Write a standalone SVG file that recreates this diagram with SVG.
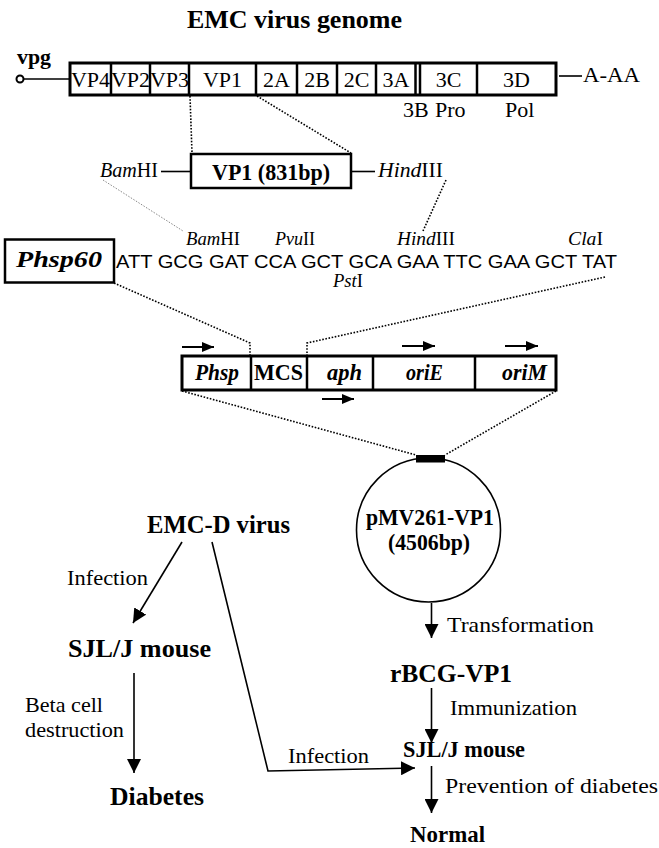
<svg xmlns="http://www.w3.org/2000/svg" width="659" height="848" viewBox="0 0 659 848">
<defs>
<style>
text{font-family:"Liberation Serif","Times New Roman",serif;fill:#000}
.b{font-weight:bold}
.i{font-style:italic}
.sans{font-family:"Liberation Sans",Arial,sans-serif}
.box{fill:#fff;stroke:#000;stroke-width:3}
.div{stroke:#000;stroke-width:2.5}
.dot{fill:none;stroke:#000;stroke-width:1.6;stroke-dasharray:1.6 1.6}
.faint{fill:none;stroke:#888;stroke-width:1;stroke-dasharray:1.5 1.5}
.ln{fill:none;stroke:#000;stroke-width:1.6}
.sl{fill:none;stroke:#000;stroke-width:2}
</style>
<marker id="ah" viewBox="0 0 14 14" refX="14" refY="7" markerWidth="14" markerHeight="14" markerUnits="userSpaceOnUse" orient="auto"><path d="M0,0 L14,7 L0,14 z" fill="#000"/></marker>
<marker id="sa" viewBox="0 0 12 10" refX="12" refY="5" markerWidth="12" markerHeight="10" markerUnits="userSpaceOnUse" orient="auto"><path d="M0,0 L12,5 L0,10 z" fill="#000"/></marker>
</defs>

<text class="b" x="187" y="28" font-size="25" textLength="215" lengthAdjust="spacingAndGlyphs">EMC virus genome</text>

<g id="genome">
<text class="b" x="17" y="64" font-size="22" textLength="34" lengthAdjust="spacingAndGlyphs">vpg</text>
<circle cx="20" cy="79" r="3.5" fill="#fff" stroke="#000" stroke-width="2"/>
<line x1="23.5" y1="79" x2="70" y2="79" class="ln"/>
<rect x="70" y="63" width="486" height="32" class="box"/>
<line x1="111" y1="63" x2="111" y2="95" class="div"/>
<line x1="150" y1="63" x2="150" y2="95" class="div"/>
<line x1="189" y1="63" x2="189" y2="95" class="div"/>
<line x1="256" y1="63" x2="256" y2="95" class="div"/>
<line x1="297" y1="63" x2="297" y2="95" class="div"/>
<line x1="337" y1="63" x2="337" y2="95" class="div"/>
<line x1="376" y1="63" x2="376" y2="95" class="div"/>
<line x1="415.5" y1="63" x2="415.5" y2="95" class="div"/>
<line x1="420" y1="63" x2="420" y2="95" class="div"/>
<line x1="477" y1="63" x2="477" y2="95" class="div"/>
<g font-size="22" text-anchor="middle">
<text x="90.5" y="87">VP4</text>
<text x="130.5" y="87">VP2</text>
<text x="169.5" y="87">VP3</text>
<text x="222.5" y="87">VP1</text>
<text x="276.5" y="87">2A</text>
<text x="317" y="87">2B</text>
<text x="356.5" y="87">2C</text>
<text x="396" y="87">3A</text>
<text x="448.5" y="87">3C</text>
<text x="516.5" y="87">3D</text>
</g>
<line x1="559" y1="76" x2="582" y2="76" class="ln"/>
<text x="583" y="82" font-size="22" textLength="57" lengthAdjust="spacingAndGlyphs">A-AA</text>
<text x="403" y="117" font-size="22">3B</text>
<text x="435" y="117" font-size="22">Pro</text>
<text x="505" y="117" font-size="22">Pol</text>
</g>

<g id="vp1insert">
<rect x="191" y="154" width="160" height="34" fill="#fff" stroke="#000" stroke-width="2.5"/>
<text class="b" x="212" y="180" font-size="23" textLength="118" lengthAdjust="spacingAndGlyphs">VP1 (831bp)</text>
<line x1="161" y1="171.5" x2="191" y2="171.5" class="ln"/>
<line x1="352" y1="171.5" x2="375" y2="171.5" class="ln"/>
<text x="100" y="177" font-size="21" textLength="58" lengthAdjust="spacingAndGlyphs"><tspan class="i">Bam</tspan>HI</text>
<text x="378" y="177" font-size="21" textLength="65" lengthAdjust="spacingAndGlyphs"><tspan class="i">Hind</tspan>III</text>
</g>

<g id="mcs-sequence">
<rect x="5" y="239.5" width="109" height="43" fill="#fff" stroke="#000" stroke-width="2.5"/>
<text class="b i" x="16" y="267" font-size="24" textLength="86" lengthAdjust="spacingAndGlyphs">Phsp60</text>
<text class="sans" x="116" y="268" font-size="19" textLength="501" lengthAdjust="spacingAndGlyphs">ATT GCG GAT CCA GCT GCA GAA TTC GAA GCT TAT</text>
<text x="186" y="245" font-size="19" textLength="54" lengthAdjust="spacingAndGlyphs"><tspan class="i">Bam</tspan>HI</text>
<text x="275" y="245" font-size="19" textLength="40" lengthAdjust="spacingAndGlyphs"><tspan class="i">Pvu</tspan>II</text>
<text x="397" y="245" font-size="19" textLength="58" lengthAdjust="spacingAndGlyphs"><tspan class="i">Hind</tspan>III</text>
<text x="568" y="245" font-size="19" textLength="35" lengthAdjust="spacingAndGlyphs"><tspan class="i">Cla</tspan>I</text>
<text x="333" y="287" font-size="19" textLength="30" lengthAdjust="spacingAndGlyphs"><tspan class="i">Pst</tspan>I</text>
</g>

<g id="cassette">
<rect x="182" y="356" width="374" height="34" class="box"/>
<line x1="251" y1="356" x2="251" y2="390" class="div"/>
<line x1="307" y1="356" x2="307" y2="390" class="div"/>
<line x1="373" y1="356" x2="373" y2="390" class="div"/>
<line x1="475" y1="356" x2="475" y2="390" class="div"/>
<g class="b" font-size="23">
<text class="i" x="195" y="380" textLength="44" lengthAdjust="spacingAndGlyphs">Phsp</text>
<text x="254" y="380" textLength="49" lengthAdjust="spacingAndGlyphs">MCS</text>
<text class="i" x="327" y="380" textLength="35" lengthAdjust="spacingAndGlyphs">aph</text>
<text class="i" x="406" y="380" textLength="37" lengthAdjust="spacingAndGlyphs">oriE</text>
<text class="i" x="502" y="380" textLength="45" lengthAdjust="spacingAndGlyphs">oriM</text>
</g>
<line x1="182" y1="347" x2="214" y2="347" class="sl" marker-end="url(#sa)"/>
<line x1="402" y1="346" x2="435" y2="346" class="sl" marker-end="url(#sa)"/>
<line x1="505" y1="346" x2="538" y2="346" class="sl" marker-end="url(#sa)"/>
<line x1="322" y1="399" x2="354" y2="399" class="sl" marker-end="url(#sa)"/>
</g>

<g id="plasmid">
<circle cx="428.5" cy="530" r="72" fill="none" stroke="#000" stroke-width="1.6"/>
<rect x="416" y="455" width="29" height="7.5" fill="#000"/>
<text class="b" x="366" y="525" font-size="23" textLength="128" lengthAdjust="spacingAndGlyphs">pMV261-VP1</text>
<text class="b" x="388" y="550" font-size="23" textLength="82" lengthAdjust="spacingAndGlyphs">(4506bp)</text>
</g>

<g id="flow-left">
<text class="b" x="147" y="533" font-size="26" textLength="143" lengthAdjust="spacingAndGlyphs">EMC-D virus</text>
<text x="67" y="585" font-size="22" textLength="81" lengthAdjust="spacingAndGlyphs">Infection</text>
<text class="b" x="68" y="657" font-size="26" textLength="143" lengthAdjust="spacingAndGlyphs">SJL/J mouse</text>
<text x="25" y="712" font-size="22" textLength="78" lengthAdjust="spacingAndGlyphs">Beta cell</text>
<text x="25" y="737" font-size="22" textLength="99" lengthAdjust="spacingAndGlyphs">destruction</text>
<text class="b" x="110" y="805" font-size="26" textLength="94" lengthAdjust="spacingAndGlyphs">Diabetes</text>
<text x="288" y="763" font-size="22" textLength="81" lengthAdjust="spacingAndGlyphs">Infection</text>
</g>

<g id="flow-right">
<text x="447" y="632" font-size="22" textLength="147" lengthAdjust="spacingAndGlyphs">Transformation</text>
<text class="b" x="390" y="682" font-size="26" textLength="122" lengthAdjust="spacingAndGlyphs">rBCG-VP1</text>
<text x="450" y="715" font-size="22" textLength="127" lengthAdjust="spacingAndGlyphs">Immunization</text>
<text class="b" x="403" y="757" font-size="24" textLength="122" lengthAdjust="spacingAndGlyphs">SJL/J mouse</text>
<text x="445" y="793" font-size="22" textLength="213" lengthAdjust="spacingAndGlyphs">Prevention of diabetes</text>
<text class="b" x="410" y="842" font-size="24" textLength="75" lengthAdjust="spacingAndGlyphs">Normal</text>
</g>

<g id="connectors">
<polyline points="190,96 192,153" class="dot"/>
<polyline points="257,96 351,153" class="dot"/>
<polyline points="103,180 183,231" class="faint"/>
<polyline points="446,180 423,231" class="dot"/>
<polyline points="114,283 250,343 250,356" class="dot"/>
<polyline points="605,277 307,343 307,356" class="dot"/>
<polyline points="182,391 416,455" class="dot"/>
<polyline points="556,391 445,455" class="dot"/>
<line x1="182" y1="542" x2="133" y2="623" class="ln" marker-end="url(#ah)"/>
<line x1="134" y1="673" x2="134" y2="773" class="ln" marker-end="url(#ah)"/>
<polyline points="212,542 268,771 415,768" class="ln" marker-end="url(#ah)"/>
<line x1="431.5" y1="603" x2="431.5" y2="638" class="ln" marker-end="url(#ah)"/>
<line x1="431.5" y1="688" x2="431.5" y2="743" class="ln" marker-end="url(#ah)"/>
<line x1="431.5" y1="766" x2="431.5" y2="813" class="ln" marker-end="url(#ah)"/>
</g>
</svg>
